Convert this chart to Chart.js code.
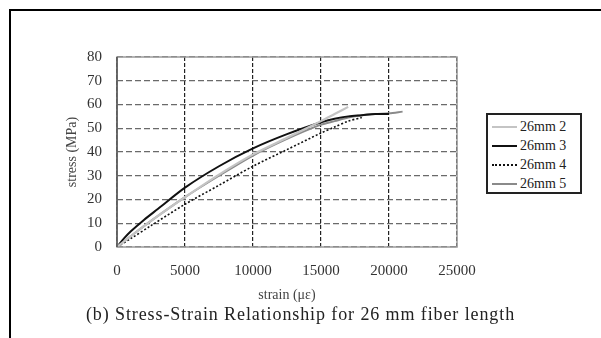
<!DOCTYPE html>
<html>
<head>
<meta charset="utf-8">
<script src="https://cdn.jsdelivr.net/npm/chart.js@4.4.0/dist/chart.umd.min.js"></script>
<style>
  body { margin: 0; background: #fff; font-family: "Liberation Serif", "Times New Roman", serif; }
  #wrap { position: relative; width: 601px; height: 338px; overflow: hidden; background: #fff; }
  #frame { position: absolute; left: 9px; top: 9px; width: 700px; height: 400px; border: 2px solid #000; }
  #c { position: absolute; left: 0; top: 0; }
  #caption { position: absolute; left: 0; width: 601px; top: 304px; text-align: center; font-size: 18px; letter-spacing: 0.9px; color: #222; }
  #legend { position: absolute; left: 486px; top: 113px; width: 92px; height: 77px; border: 2px solid #222; background: #fff; }
  .row { position: absolute; left: 3px; height: 19px; font-size: 14px; color: #222; line-height: 19px; }
  .row span.s { position: absolute; left: 1px; top: 9px; width: 25px; }
  .row span.t { position: absolute; left: 29px; top: 0; white-space: nowrap; }
</style>
</head>
<body>
<div id="wrap">
  <div id="frame"></div>
  <canvas id="c" width="601" height="338"></canvas>
  <div id="legend"></div>
  <div id="caption">(b) Stress-Strain Relationship for 26 mm fiber length</div>
</div>
<script>
// series names
const nombres = ['26mm 2', '26mm 3', '26mm 4', '26mm 5'];

// strain values (x) and stress values (y)
const strain2 = [0, 1000, 2500, 5000, 7500, 10000, 12500, 15000, 16000, 17000];
const stress2 = [0, 4.5, 11, 21, 30.5, 39, 46, 53, 56, 59];

const strain3 = [0, 500, 1000, 2000, 3000, 5000, 7500, 10000, 12500, 15000, 16000, 17000, 18000, 19000, 20000];
const stress3 = [0, 3.5, 6.5, 11.5, 16, 25, 34, 41.5, 47.5, 52.5, 54, 55, 55.5, 56, 56];

const strain4 = [0, 1000, 2500, 5000, 7500, 10000, 12500, 15000, 16000, 17000, 18000];
const stress4 = [0, 3.5, 9, 18, 26, 34, 41, 48, 50.5, 53, 54.5];

const strain5 = [0, 1000, 2500, 5000, 7500, 10000, 12500, 15000, 16000, 17000, 18000, 19000, 20000, 21000];
const stress5 = [0, 4.5, 11, 21, 30, 38.5, 45.5, 51.5, 53, 54.5, 55.5, 56, 56.3, 57];

// axis ticks
const ticksX = [0, 5000, 10000, 15000, 20000, 25000];
const ticksY = [0, 10, 20, 30, 40, 50, 60, 70, 80];

const colores = ['#c4c4c4', '#111111', '#111111', '#8a8a8a'];
const anchos = [2.2, 2, 1.6, 2];
const guiones = [[], [], [2, 2], []];

function puntos(xs, ys) {
  return xs.map((x, i) => ({ x: x, y: ys[i] }));
}

const series = [
  puntos(strain2, stress2),
  puntos(strain3, stress3),
  puntos(strain4, stress4),
  puntos(strain5, stress5)
];

const fuente = "'Liberation Serif', 'Times New Roman', serif";

// marco del área de la gráfica
const marco = {
  id: 'marco',
  afterDatasetsDraw(chart) {
    const a = chart.chartArea;
    const ctx = chart.ctx;
    ctx.save();
    ctx.strokeStyle = '#9a9a9a';
    ctx.lineWidth = 1.5;
    ctx.strokeRect(a.left, a.top, a.right - a.left, a.bottom - a.top);
    ctx.strokeStyle = '#555';
    ctx.beginPath();
    ctx.moveTo(a.left, a.top);
    ctx.lineTo(a.left, a.bottom);
    ctx.stroke();
    ctx.restore();
  }
};

new Chart(document.getElementById('c'), {
  type: 'line',
  data: {
    datasets: series.map((d, i) => ({
      label: nombres[i],
      data: d,
      borderColor: colores[i],
      borderWidth: anchos[i],
      borderDash: guiones[i],
      pointRadius: 0,
      tension: 0.3,
      fill: false
    }))
  },
  options: {
    responsive: false,
    animation: false,
    layout: { padding: { left: 0, right: 144, top: 57, bottom: 31 } },
    plugins: { legend: { display: false }, tooltip: { enabled: false } },
    scales: {
      x: {
        type: 'linear',
        min: 0,
        max: 25000,
        afterBuildTicks: s => { s.ticks = ticksX.map(v => ({ value: v })); },
        afterFit: s => { s.height = 60; },
        ticks: { color: '#333', padding: 15, maxRotation: 0, font: { family: fuente, size: 15 }, callback: v => String(v) },
        grid: { color: '#222', lineWidth: 1.2, drawTicks: false },
        border: { display: false, dash: [4, 2] },
        title: { display: true, text: 'strain (με)', color: '#444', font: { family: fuente, size: 14 }, padding: { top: 0, bottom: 3 } }
      },
      y: {
        min: 0,
        max: 80,
        afterBuildTicks: s => { s.ticks = ticksY.map(v => ({ value: v })); },
        afterFit: s => { s.width = 117; },
        ticks: { color: '#333', padding: 15, font: { family: fuente, size: 15 }, callback: v => String(v) },
        grid: { color: '#6a6a6a', lineWidth: 1.2, drawTicks: false },
        border: { display: false, dash: [6, 3] },
        title: { display: true, text: 'stress (MPa)', color: '#444', font: { family: fuente, size: 14 }, padding: { top: 64, bottom: 0 } }
      }
    }
  },
  plugins: [marco]
});

// leyenda
const leyenda = document.getElementById('legend');
const tops = [2, 21, 40, 59];
nombres.forEach((n, i) => {
  const row = document.createElement('div');
  row.className = 'row';
  row.style.top = tops[i] + 'px';
  const s = document.createElement('span');
  s.className = 's';
  s.style.borderTop = (guiones[i].length ? anchos[i] + 1 + 'px dotted ' : anchos[i] + 'px solid ') + colores[i];
  const t = document.createElement('span');
  t.className = 't';
  t.textContent = n;
  row.appendChild(s);
  row.appendChild(t);
  leyenda.appendChild(row);
});
</script>
</body>
</html>
